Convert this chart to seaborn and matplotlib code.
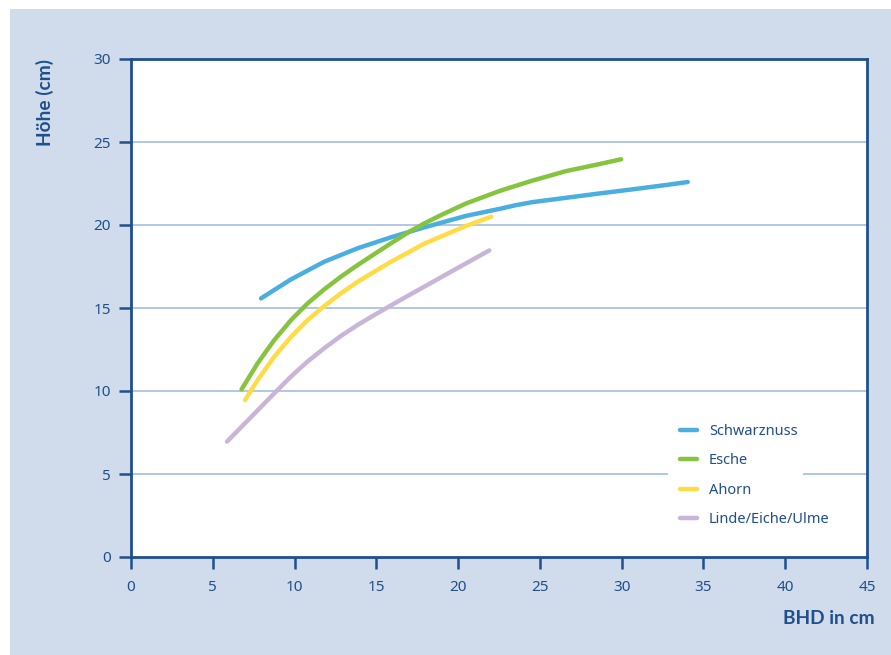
import pandas as pd
import matplotlib.pyplot as plt
import matplotlib.patches as mpatches
import seaborn as sns

# values
schwarznuss_x = [7.95, 9.79, 11.82, 13.86, 15.90, 17.94, 20.49, 22.53, 23.55, 24.56,
                 26.61, 28.64, 30.68, 32.72, 34.04]
schwarznuss_y = [15.58, 16.73, 17.79, 18.60, 19.26, 19.86, 20.55, 20.97, 21.20, 21.38,
                 21.64, 21.90, 22.15, 22.41, 22.59]

esche_x = [6.76, 7.74, 8.76, 9.79, 10.80, 11.82, 12.84, 13.86, 14.88, 15.90, 16.92,
           17.94, 18.96, 20.49, 22.53, 24.56, 26.61, 28.64, 29.97]
esche_y = [10.10, 11.67, 13.07, 14.28, 15.28, 16.13, 16.89, 17.59, 18.25, 18.90, 19.54,
           20.10, 20.60, 21.30, 22.05, 22.68, 23.25, 23.67, 23.96]

ahorn_x = [6.97, 7.74, 8.76, 9.79, 10.80, 11.82, 12.84, 13.86, 14.88, 15.90, 16.92,
           17.94, 20.49, 22.02]
ahorn_y = [9.46, 10.66, 12.07, 13.27, 14.28, 15.12, 15.89, 16.58, 17.19, 17.79, 18.33,
           18.88, 19.95, 20.50]

linde_x = [5.87, 7.34, 8.76, 9.79, 10.80, 11.82, 12.84, 13.86, 14.88, 15.90, 16.92,
           17.94, 19.70, 21.91]
linde_y = [6.95, 8.43, 9.86, 10.88, 11.78, 12.58, 13.32, 13.98, 14.58, 15.16, 15.73,
           16.29, 17.26, 18.47]

species = ['Schwarznuss', 'Esche', 'Ahorn', 'Linde/Eiche/Ulme']
colors = ['#4aaee0', '#86c440', '#ffdc46', '#c9b5d8']

x_ticks = [0, 5, 10, 15, 20, 25, 30, 35, 40, 45]
y_ticks = [0, 5, 10, 15, 20, 25, 30]

frames = []
for name, xs, ys in zip(species,
                        [schwarznuss_x, esche_x, ahorn_x, linde_x],
                        [schwarznuss_y, esche_y, ahorn_y, linde_y]):
    frames.append(pd.DataFrame({'BHD': xs, 'Hoehe': ys, 'Art': name}))
df = pd.concat(frames, ignore_index=True)

sns.set_theme(style='white')
plt.rcParams['font.family'] = ['Noto Sans', 'DejaVu Sans']

dark = '#1f4f8d'
grid = '#a9c4e2'

fig = plt.figure(figsize=(8.91, 6.55), dpi=100)
fig.patch.set_facecolor('white')
bg = mpatches.Rectangle((10 / 891, 0), 1 - 10 / 891, 1 - 9 / 655,
                        transform=fig.transFigure, facecolor='#d0dcec',
                        edgecolor='none', zorder=-10)
fig.add_artist(bg)

ax = fig.add_axes([131 / 891, 98 / 655, 736 / 891, 498 / 655])
ax.set_facecolor('white')

for y in y_ticks[1:-1]:
    ax.axhline(y, color=grid, lw=1.3, zorder=1)

# white box behind the legend (narrower than the legend text, as in the original)
ax.add_patch(mpatches.Rectangle(((668 - 131) / 736, 0.05), (803 - 668) / 736, 0.24,
                                transform=ax.transAxes, facecolor='white',
                                edgecolor='none', zorder=2))

sns.lineplot(data=df, x='BHD', y='Hoehe', hue='Art', hue_order=species,
             palette=colors, sort=False, estimator=None, lw=3.2, ax=ax,
             zorder=3)
for ln in ax.get_lines():
    ln.set_solid_joinstyle('round')

ax.set_xlim(0, 45)
ax.set_ylim(0, 30)
ax.set_xticks(x_ticks)
ax.set_yticks(y_ticks)
ax.set_xlabel('')
ax.set_ylabel('')

for s in ax.spines.values():
    s.set_color(dark)
    s.set_linewidth(2)
ax.tick_params(axis='both', colors=dark, labelsize=11, length=8.5, width=1.8,
               direction='out')
ax.tick_params(axis='y', pad=6)
ax.tick_params(axis='x', pad=8)
ax.tick_params(left=True, bottom=True)

bold = ['Lato', 'DejaVu Sans']
fig.text(45 / 891, 1 - 102 / 655, 'Höhe (cm)', rotation=90, ha='center',
         va='center', color=dark, fontsize=13.8, fontweight='bold', family=bold)
fig.text(875 / 891, 1 - 619 / 655, 'BHD in cm', ha='right', va='center',
         color=dark, fontsize=13.8, fontweight='bold', family=bold)

leg = ax.legend(loc='upper left', bbox_to_anchor=((668 - 131) / 736, 1 - (412 - 59) / 498),
                frameon=False, fontsize=10.5, labelspacing=1.0,
                handlelength=1.2, handletextpad=0.8, borderpad=0.8,
                borderaxespad=0)
for t in leg.get_texts():
    t.set_color(dark)
for h in leg.get_lines():
    h.set_linewidth(3.2)

fig.savefig('out.png', dpi=100)
